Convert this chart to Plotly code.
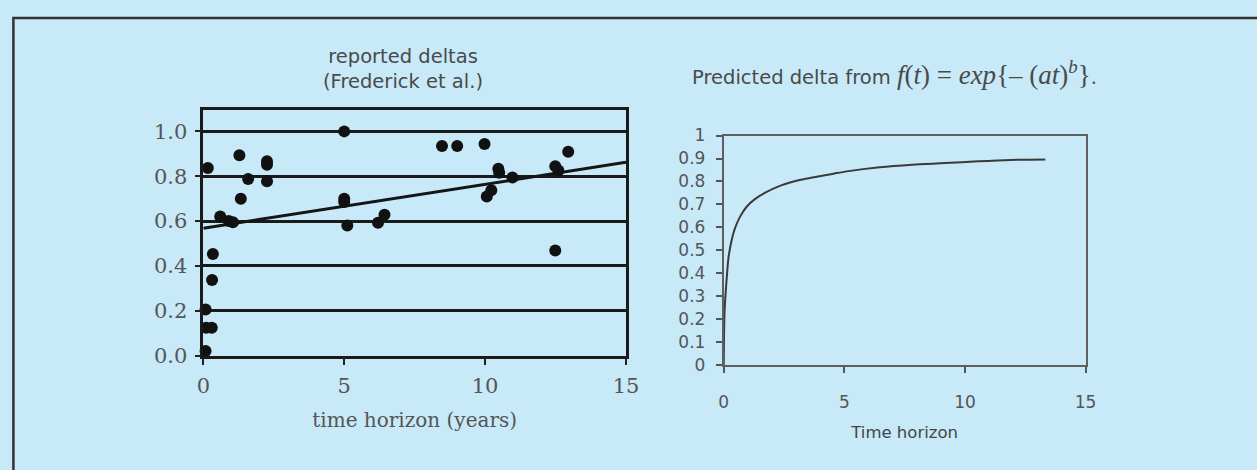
import plotly.graph_objects as go

# ---- data: left panel (reported deltas, Frederick et al.) ----
horizon_years = [0.16, 0.08, 0.10, 0.30, 0.08, 0.34, 0.31, 0.60, 0.90, 1.05,
                 1.28, 1.33, 1.59, 2.26, 2.26, 2.26, 5.00, 5.00, 5.00, 5.11,
                 6.20, 6.43, 8.47, 9.01, 9.98, 10.06, 10.22, 10.47, 10.50, 10.97,
                 12.49, 12.60, 12.49, 12.95]
reported_delta = [0.837, 0.205, 0.124, 0.124, 0.020, 0.453, 0.337, 0.620, 0.600, 0.595,
                  0.894, 0.699, 0.788, 0.867, 0.851, 0.777, 1.000, 0.700, 0.685, 0.580,
                  0.592, 0.628, 0.935, 0.935, 0.944, 0.709, 0.737, 0.833, 0.815, 0.794,
                  0.845, 0.825, 0.469, 0.909]
trend_x = [0, 15]
trend_y = [0.568, 0.862]

# ---- data: right panel (predicted delta curve) ----
pred_t = [0, 0.03, 0.07, 0.14, 0.20, 0.34, 0.48, 0.68, 0.95, 1.29, 1.70, 2.38,
          3.06, 3.74, 4.56, 5.10, 6.46, 7.82, 9.18, 10.55, 11.90, 13.33]
pred_delta = [0, 0.22, 0.30, 0.40, 0.47, 0.55, 0.60, 0.647, 0.69, 0.723, 0.75, 0.783,
              0.804, 0.818, 0.834, 0.844, 0.862, 0.873, 0.880, 0.888, 0.894, 0.896]

left_yticks = [0.0, 0.2, 0.4, 0.6, 0.8, 1.0]
left_xticks = [0, 5, 10, 15]
right_yticks = [0, 0.1, 0.2, 0.3, 0.4, 0.5, 0.6, 0.7, 0.8, 0.9, 1]
right_yticklabels = ["0", "0.1", "0.2", "0.3", "0.4", "0.5", "0.6", "0.7", "0.8", "0.9", "1"]
right_xticks = [0, 5, 10, 15]

W, H = 1257, 470
BG = "#c7e9f8"

def px(x):
    return x / W

def py(y):
    return 1 - y / H

fig = go.Figure()

fig.add_trace(go.Scatter(
    x=trend_x, y=trend_y, mode="lines", xaxis="x", yaxis="y",
    line=dict(color="#151515", width=3), showlegend=False, hoverinfo="skip"))
fig.add_trace(go.Scatter(
    x=horizon_years, y=reported_delta, mode="markers", xaxis="x", yaxis="y",
    marker=dict(color="#111111", size=12), cliponaxis=False, showlegend=False))

fig.add_trace(go.Scatter(
    x=pred_t, y=pred_delta, mode="lines", xaxis="x2", yaxis="y2",
    line=dict(color="#3a3a3a", width=2, shape="spline", smoothing=0.8),
    showlegend=False))

serif = "DejaVu Serif"
sans = "DejaVu Sans"
title_font = "DejaVu Sans"

fig.update_layout(
    width=W, height=H,
    margin=dict(l=0, r=0, t=0, b=0),
    paper_bgcolor=BG, plot_bgcolor=BG,
    xaxis=dict(domain=[px(199.5), px(629)], range=[0, 15], tickvals=left_xticks,
               ticks="outside", ticklen=7, tickwidth=2, tickcolor="#222",
               ticklabelstandoff=3,
               showline=True, linecolor="#1a1a1a", linewidth=2.5, mirror=True,
               showgrid=False, zeroline=False,
               tickfont=dict(family=serif, size=21, color="#555"),
               title=dict(text="time horizon (years)", standoff=16,
                          font=dict(family=serif, size=20, color="#555")),
               anchor="y"),
    yaxis=dict(domain=[py(362.5), py(105)], range=[0, 1.095], tickvals=left_yticks,
               tickformat=".1f", ticks="outside", ticklen=6, tickwidth=2, tickcolor="#222",
               ticklabelstandoff=3,
               showline=True, linecolor="#1a1a1a", linewidth=2.5, mirror=True,
               showgrid=True, gridcolor="#1a1a1a", gridwidth=3, zeroline=False,
               tickfont=dict(family=serif, size=21, color="#555"),
               anchor="x"),
    xaxis2=dict(domain=[px(728.3), px(1096)], range=[0, 15], tickvals=right_xticks,
                ticks="outside", ticklen=6, tickwidth=1.5, tickcolor="#555",
                ticklabelstandoff=14,
                showline=True, linecolor="#5f5f5f", linewidth=1.8, mirror=True,
                showgrid=False, zeroline=False,
                tickfont=dict(family=sans, size=17, color="#555"),
                title=dict(text="Time horizon", standoff=16,
                           font=dict(family=sans, size=16.5, color="#444")),
                anchor="y2"),
    yaxis2=dict(domain=[py(372.7), py(131.7)], range=[0, 1], tickvals=right_yticks,
                ticktext=right_yticklabels,
                ticks="outside", ticklen=6, tickwidth=1.5, tickcolor="#555",
                ticklabelstandoff=7,
                showline=True, linecolor="#5f5f5f", linewidth=1.8, mirror=True,
                showgrid=False, zeroline=False,
                tickfont=dict(family=sans, size=17, color="#555"),
                anchor="x2"),
    annotations=[
        dict(text="reported deltas<br>(Frederick et al.)", x=px(402), y=py(62),
             xref="paper", yref="paper", xanchor="center", yanchor="middle",
             showarrow=False, align="center",
             font=dict(family=title_font, size=19.5, color="#4a4a4a")),
        dict(text="Predicted delta from <span style='font-family:Liberation Serif;font-size:27px'>"
                  "<i>f</i>(<i>t</i>) = <i>exp</i>{– (<i>at</i>)<sup><i>b</i></sup>}</span>.",
             x=px(902), y=py(66),
             xref="paper", yref="paper", xanchor="center", yanchor="middle",
             showarrow=False,
             font=dict(family=title_font, size=19.5, color="#4a4a4a")),
    ],
    shapes=[
        dict(type="rect", xref="paper", yref="paper",
             x0=px(6.5), x1=px(1300), y0=py(520), y1=py(8.5),
             line=dict(color="#333", width=2.5), fillcolor="rgba(0,0,0,0)"),
    ],
)

fig.write_html("out.html",
               config={"displayModeBar": False},
               post_script="document.documentElement.style.margin='0';"
                           "document.body.style.margin='0';"
                           "document.body.style.overflow='hidden';"
                           "document.documentElement.style.background='" + BG + "';"
                           "document.body.style.background='" + BG + "';")
